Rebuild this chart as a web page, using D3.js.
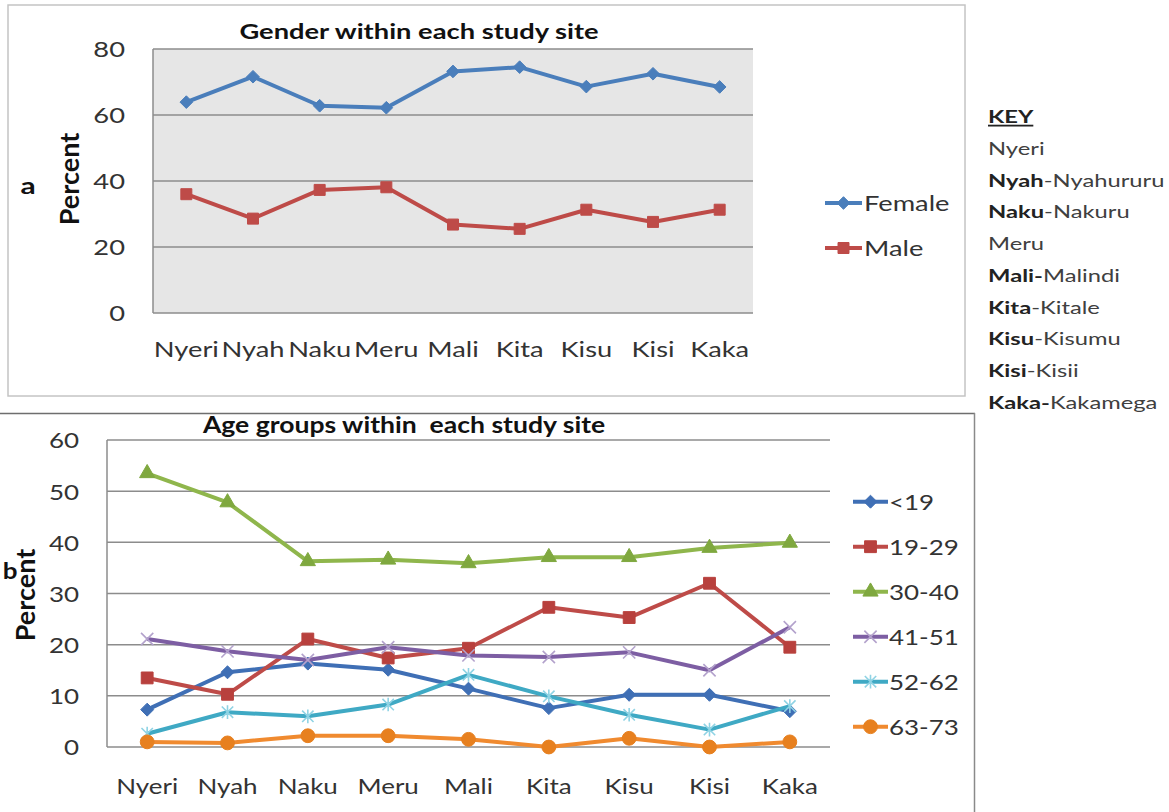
<!DOCTYPE html>
<html>
<head>
<meta charset="utf-8">
<script src="https://cdn.jsdelivr.net/npm/d3@7"></script>
<style>
  html, body { margin: 0; padding: 0; background: #fff; }
  svg { display: block; }
</style>
</head>
<body>
<svg id="chart" width="1169" height="812"></svg>
<script>
// ---------------- DATA ----------------
const categories = ["Nyeri", "Nyah", "Naku", "Meru", "Mali", "Kita", "Kisu", "Kisi", "Kaka"];

const genderSeries = ["Female", "Male"];
const femaleValues = [63.9, 71.6, 62.8, 62.2, 73.2, 74.5, 68.6, 72.5, 68.5];
const maleValues   = [36.0, 28.6, 37.3, 38.1, 26.8, 25.5, 31.3, 27.6, 31.3];
const genderTicks  = [0, 20, 40, 60, 80];

const ageGroups   = ["<19", "19-29", "30-40", "41-51", "52-62", "63-73"];
const ageUnder19  = [7.3, 14.6, 16.3, 15.1, 11.4, 7.6, 10.2, 10.2, 7.0];
const age19to29   = [13.5, 10.3, 21.1, 17.4, 19.3, 27.3, 25.3, 32.0, 19.5];
const age30to40   = [53.5, 47.8, 36.3, 36.6, 35.9, 37.1, 37.1, 38.9, 39.9];
const age41to51   = [21.1, 18.7, 17.0, 19.5, 17.9, 17.6, 18.5, 15.0, 23.4];
const age52to62   = [2.6, 6.8, 6.0, 8.3, 14.1, 9.9, 6.3, 3.4, 8.0];
const age63to73   = [1.0, 0.8, 2.2, 2.2, 1.5, 0.0, 1.7, 0.0, 1.0];
const ageTicks    = [0, 10, 20, 30, 40, 50, 60];

const keyBold   = ["", "Nyah", "Naku", "", "Mali-", "Kita", "Kisu", "Kisi", "Kaka-"];
const keyNormal = ["Nyeri", "-Nyahururu", "-Nakuru", "Meru", "Malindi", "-Kitale", "-Kisumu", "-Kisii", "Kakamega"];

// ---------------- STYLE ----------------
const FONT = "Lato, 'Open Sans', 'DejaVu Sans', sans-serif";
const SX_TOP = 1.3, SX_BOT = 1.18, SX_KEY = 1.32;
const TEXT = "#333333";

const svg = d3.select("#chart");

// custom marker shapes
const diamondSym = { draw(ctx, size) { const r = Math.sqrt(size / 2);
  ctx.moveTo(0, -r); ctx.lineTo(r, 0); ctx.lineTo(0, r); ctx.lineTo(-r, 0); ctx.closePath(); } };
const xSym = { draw(ctx, size) { const r = Math.sqrt(size) / 2;
  ctx.moveTo(-r, -r); ctx.lineTo(r, r); ctx.moveTo(r, -r); ctx.lineTo(-r, r); } };
const starSym = { draw(ctx, size) { const r = Math.sqrt(size) / 2;
  ctx.moveTo(-r, -r); ctx.lineTo(r, r); ctx.moveTo(r, -r); ctx.lineTo(-r, r);
  ctx.moveTo(0, -r * 1.2); ctx.lineTo(0, r * 1.2); } };

function stext(g, x, y, str, o) {
  return g.append("text")
    .attr("transform", `translate(${x},${y}) scale(${o.sx || 1},1)`)
    .attr("text-anchor", o.anchor || "start")
    .style("font-family", FONT)
    .style("font-size", (o.size || 20) + "px")
    .style("font-weight", o.weight || "normal")
    .style("fill", o.fill || TEXT)
    .text(str);
}

function vtext(g, x, y, str, size) {
  return g.append("text").attr("transform", `translate(${x},${y}) rotate(-90)`)
    .attr("text-anchor", "middle").style("font-family", FONT).style("font-size", size + "px")
    .style("font-weight", "bold").style("fill", "#111").text(str);
}

function drawMarker(g, x, y, m) {
  const p = g.append("path")
    .attr("transform", `translate(${x},${y})`)
    .attr("d", d3.symbol().type(m.type).size(m.size)());
  if (m.stroke) {
    p.attr("fill", "none").attr("stroke", m.mcolor).attr("stroke-width", 1.6);
  } else {
    p.attr("fill", m.mcolor).attr("stroke", m.mcolor).attr("stroke-width", 1);
  }
}

// ================= TOP CHART (Gender) =================
{
  svg.append("rect").attr("x", 8).attr("y", 5).attr("width", 957).attr("height", 391)
    .attr("fill", "#fff").attr("stroke", "#c4c4c4").attr("stroke-width", 1.5);

  const x = d3.scaleBand().domain(categories).range([153, 753]);
  const y = d3.scaleLinear().domain([0, 80]).range([313, 49]);

  svg.append("rect").attr("x", 153).attr("y", y(80)).attr("width", 600).attr("height", y(0) - y(80))
    .attr("fill", "#e6e6e6");

  const g = svg.append("g");
  g.selectAll("line.grid").data(genderTicks).join("line")
    .attr("x1", 153).attr("x2", 753)
    .attr("y1", d => y(d)).attr("y2", d => y(d))
    .attr("stroke", "#8c8c8c").attr("stroke-width", 1.5);
  g.append("line").attr("x1", 153).attr("x2", 153).attr("y1", y(80)).attr("y2", y(0))
    .attr("stroke", "#8c8c8c").attr("stroke-width", 1.5);

  const ya = svg.append("g").attr("transform", "translate(153,0)")
    .call(d3.axisLeft(y).tickValues(genderTicks).tickSize(0));
  ya.select(".domain").remove();
  ya.selectAll("text").attr("x", 0).attr("dy", "0.36em")
    .attr("transform", `translate(-28,0) scale(${SX_TOP},1)`)
    .style("font-family", FONT).style("font-size", "21px").style("fill", TEXT);

  const xa = svg.append("g").attr("transform", "translate(0,313)")
    .call(d3.axisBottom(x).tickSize(0));
  xa.select(".domain").remove();
  xa.selectAll("text").attr("y", 0).attr("dy", 0)
    .attr("transform", `translate(0,44) scale(${SX_TOP},1)`)
    .style("font-family", FONT).style("font-size", "21px").style("fill", TEXT);

  stext(svg, 419, 39, "Gender within each study site", { sx: SX_TOP, size: 21, weight: "bold", anchor: "middle", fill: "#111" });
  vtext(svg, 79, 179, "Percent", 27);
  stext(svg, 28, 194, "a", { sx: SX_TOP, size: 23, weight: "bold", anchor: "middle", fill: "#111" });

  const series = [
    { name: "Female", values: femaleValues, color: "#4a7ebb", mcolor: "#4a7ebb", type: diamondSym, size: 80 },
    { name: "Male",   values: maleValues,   color: "#be4b48", mcolor: "#be4b48", type: d3.symbolSquare, size: 121 }
  ];
  const line = d3.line().x((d, i) => x(categories[i]) + x.bandwidth() / 2).y(d => y(d));
  series.forEach(s => {
    svg.append("path").attr("d", line(s.values)).attr("fill", "none")
      .attr("stroke", s.color).attr("stroke-width", 4).attr("stroke-linejoin", "round");
    s.values.forEach((v, i) => drawMarker(svg, x(categories[i]) + x.bandwidth() / 2, y(v), s));
  });

  const legY = [203, 248];
  series.forEach((s, i) => {
    svg.append("line").attr("x1", 825).attr("x2", 862).attr("y1", legY[i]).attr("y2", legY[i])
      .attr("stroke", s.color).attr("stroke-width", 4);
    drawMarker(svg, 843.5, legY[i], s);
    stext(svg, 864, legY[i] + 8, s.name, { sx: SX_TOP, size: 21 });
  });
}

// ================= KEY =================
{
  const kx = 988;
  stext(svg, kx, 123, "KEY", { sx: SX_KEY, size: 18, weight: "bold", fill: "#222" })
    .style("text-decoration", "underline");
  keyNormal.forEach((n, i) => {
    const t = svg.append("text")
      .attr("transform", `translate(${kx},${155 + i * 31.7}) scale(${SX_KEY},1)`)
      .style("font-family", FONT).style("font-size", "18px");
    if (keyBold[i]) t.append("tspan").style("font-weight", "bold").style("fill", "#222").text(keyBold[i]);
    t.append("tspan").style("fill", "#404040").text(n);
  });
}

// ================= BOTTOM CHART (Age groups) =================
{
  svg.append("line").attr("x1", 0).attr("x2", 975).attr("y1", 413.5).attr("y2", 413.5)
    .attr("stroke", "#6e6e6e").attr("stroke-width", 1.5);
  svg.append("line").attr("x1", 974.5).attr("x2", 974.5).attr("y1", 413).attr("y2", 812)
    .attr("stroke", "#8a8a8a").attr("stroke-width", 1.5);

  const x = d3.scaleBand().domain(categories).range([107, 830]);
  const y = d3.scaleLinear().domain([0, 60]).range([747, 440]);

  svg.selectAll("line.agrid").data(ageTicks).join("line")
    .attr("x1", 107).attr("x2", 830)
    .attr("y1", d => y(d)).attr("y2", d => y(d))
    .attr("stroke", "#8c8c8c").attr("stroke-width", 1.5);
  svg.append("line").attr("x1", 107).attr("x2", 107).attr("y1", y(60)).attr("y2", y(0))
    .attr("stroke", "#8c8c8c").attr("stroke-width", 1.5);

  const ya = svg.append("g").attr("transform", "translate(107,0)")
    .call(d3.axisLeft(y).tickValues(ageTicks).tickSize(0));
  ya.select(".domain").remove();
  ya.selectAll("text").attr("x", 0).attr("dy", "0.36em")
    .attr("transform", `translate(-28,0) scale(${SX_BOT},1)`)
    .style("font-family", FONT).style("font-size", "22px").style("fill", TEXT);

  const xa = svg.append("g").attr("transform", "translate(0,747)")
    .call(d3.axisBottom(x).tickSize(0));
  xa.select(".domain").remove();
  xa.selectAll("text").attr("y", 0).attr("dy", 0)
    .attr("transform", `translate(0,47) scale(${SX_BOT},1)`)
    .style("font-family", FONT).style("font-size", "22px").style("fill", TEXT);

  stext(svg, 404, 433, "Age groups within  each study site", { sx: SX_BOT, size: 22.5, weight: "bold", anchor: "middle", fill: "#111" })
    .style("white-space", "pre");
  vtext(svg, 35, 595, "Percent", 27);
  stext(svg, 10, 579, "b", { sx: SX_BOT, size: 22, weight: "bold", anchor: "middle", fill: "#111" });

  const series = [
    { name: ageGroups[0], values: ageUnder19, color: "#3f6fb5", mcolor: "#3f6fb5", type: diamondSym, size: 84 },
    { name: ageGroups[1], values: age19to29,  color: "#be4b48", mcolor: "#b8403d", type: d3.symbolSquare, size: 140 },
    { name: ageGroups[2], values: age30to40,  color: "#8fb64c", mcolor: "#7fa83f", type: d3.symbolTriangle, size: 100 },
    { name: ageGroups[3], values: age41to51,  color: "#7d5ea3", mcolor: "#b3a2cc", type: xSym, size: 150, stroke: true },
    { name: ageGroups[4], values: age52to62,  color: "#3fa9c4", mcolor: "#8fd3e4", type: starSym, size: 130, stroke: true },
    { name: ageGroups[5], values: age63to73,  color: "#f08a2f", mcolor: "#e7801f", type: d3.symbolCircle, size: 150 }
  ];
  const line = d3.line().x((d, i) => x(categories[i]) + x.bandwidth() / 2).y(d => y(d));
  series.forEach(s => {
    svg.append("path").attr("d", line(s.values)).attr("fill", "none")
      .attr("stroke", s.color).attr("stroke-width", 4).attr("stroke-linejoin", "round");
    s.values.forEach((v, i) => drawMarker(svg, x(categories[i]) + x.bandwidth() / 2, y(v), s));
  });

  series.forEach((s, i) => {
    const ly = 501.7 + i * 45;
    svg.append("line").attr("x1", 853).attr("x2", 888).attr("y1", ly).attr("y2", ly)
      .attr("stroke", s.color).attr("stroke-width", 4);
    drawMarker(svg, 870.5, ly, s);
    stext(svg, 889, ly + 8, s.name, { sx: SX_BOT, size: 22 });
  });
}
</script>
</body>
</html>
